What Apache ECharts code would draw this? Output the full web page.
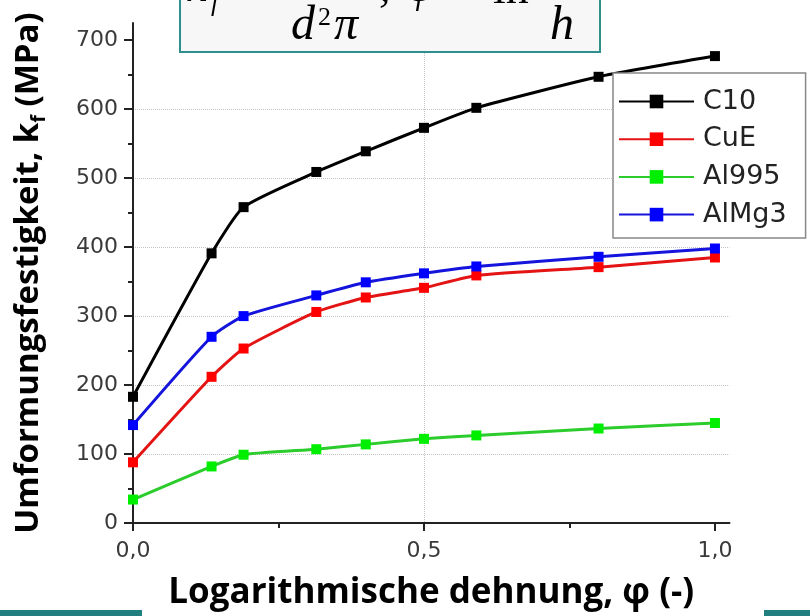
<!DOCTYPE html>
<html><head><meta charset="utf-8">
<script src="https://cdn.jsdelivr.net/npm/echarts@6/dist/echarts.min.js"></script>
<style>html,body{margin:0;padding:0;background:#fff}#c{width:810px;height:616px}</style>
</head><body><div id="c"></div>
<script>
// strain values (x)
const phi = [0, 0.135, 0.19, 0.315, 0.40, 0.50, 0.59, 0.80, 1.0];
// flow stress kf (MPa)
const c10   = [183, 391, 458, 509, 539, 573, 602, 647, 677];
const cuE   = [88, 212, 253, 306, 327, 341, 359, 371, 385];
const al995 = [34, 82, 99, 107, 114, 122, 127, 137, 145];
const alMg3 = [142, 270, 300, 330, 349, 362, 372, 386, 398];
const seriesNames = ['C10', 'CuE', 'Al995', 'AlMg3'];
const yTicks = [0, 100, 200, 300, 400, 500, 600, 700];
const yMinor = [50, 150, 250, 350, 450, 550, 650];
const xTicks = [0, 0.5, 1.0];
const xMinor = [0.25, 0.75];

const lineColors = ['#000000', '#e41414', '#2ccc2c', '#1414dc'];
const markColors = ['#000000', '#ff0000', '#00ee00', '#0000ff'];
const vals = [c10, cuE, al995, alMg3];

const chart = echarts.init(document.getElementById('c'));
const axisCol = '#222';
const labelStyle = {fontFamily: '"DejaVu Sans"', fontSize: 22, color: '#3a3a3a'};
const titleFont = '"Open Sans"';

chart.setOption({
  animation: false,
  backgroundColor: '#fff',
  grid: {left: 133, right: 80.5, top: 23, bottom: 93},
  xAxis: [{
    type: 'value', min: 0, max: 1.025, interval: 0.5,
    axisLine: {lineStyle: {color: axisCol, width: 2}},
    axisTick: {customValues: xTicks, length: 8, lineStyle: {color: axisCol, width: 2}},
    axisLabel: Object.assign({customValues: xTicks, margin: 17,
      formatter: v => v.toFixed(1).replace('.', ',')}, labelStyle),
    splitLine: {show: true, showMinLine: false, showMaxLine: false,
      lineStyle: {type: 'dotted', color: '#c4c4c4', width: 1}},
    name: 'Logarithmische dehnung, φ (-)',
    nameLocation: 'middle', nameGap: 53,
    nameTextStyle: {fontFamily: titleFont, fontWeight: 'bold', fontSize: 35, color: '#000'}
  }, {
    type: 'value', min: 0, max: 1.025, position: 'bottom',
    axisLine: {show: false},
    axisTick: {show: true, customValues: xMinor, length: 5, lineStyle: {color: axisCol, width: 2}},
    axisLabel: {show: false}, splitLine: {show: false}
  }],
  yAxis: [{
    type: 'value', min: 0, max: 725, interval: 100,
    axisLine: {show: true, lineStyle: {color: axisCol, width: 2}},
    axisTick: {show: true, customValues: yTicks, length: 9, lineStyle: {color: axisCol, width: 2}},
    axisLabel: Object.assign({customValues: yTicks, margin: 15}, labelStyle),
    splitLine: {show: true, showMinLine: false, showMaxLine: false,
      lineStyle: {type: 'dotted', color: '#c4c4c4', width: 1}},
    name: 'Umformungsfestigkeit, k{s|f} (MPa)',
    nameLocation: 'middle', nameGap: 84, nameRotate: 90,
    nameTextStyle: {fontFamily: titleFont, fontWeight: 'bold', fontSize: 33, color: '#000',
      rich: {s: {fontFamily: titleFont, fontWeight: 'bold', fontSize: 20, color: '#000',
        verticalAlign: 'bottom', lineHeight: 40}}}
  }, {
    type: 'value', min: 0, max: 725, position: 'left',
    axisLine: {show: false},
    axisTick: {show: true, customValues: yMinor, length: 5, lineStyle: {color: axisCol, width: 2}},
    axisLabel: {show: false}, splitLine: {show: false}
  }],
  legend: {
    orient: 'vertical', left: 613, top: 73,
    padding: [15, 19, 10, 5], itemGap: 10.7, itemWidth: 75, itemHeight: 17,
    backgroundColor: '#fff', borderColor: '#888', borderWidth: 1.5,
    textStyle: {fontFamily: '"DejaVu Sans"', fontSize: 27, color: '#222', padding: [0, 0, 0, 4]},
    data: seriesNames
  },
  series: seriesNames.map((n, k) => ({
    name: n, type: 'line', xAxisIndex: 0, yAxisIndex: 0,
    data: phi.map((x, i) => [x, vals[k][i]]),
    smooth: 0.18,
    symbol: 'rect', symbolSize: 10,
    lineStyle: {color: lineColors[k], width: 3},
    itemStyle: {color: markColors[k], borderWidth: 0}
  })),
  graphic: [
    {type: 'rect', z: 100, shape: {x: 180, y: -3, width: 420, height: 55},
      style: {fill: '#f7f7f7', stroke: '#2f8f8f', lineWidth: 2}},
    {type: 'text', z: 101, style: {text: 'k', x: 186, y: -11, font: 'italic 46px "Liberation Serif"', fill: '#000', verticalAlign: 'middle'}},
    {type: 'text', z: 101, style: {text: 'f', x: 211, y: 4, font: 'italic 26px "Liberation Serif"', fill: '#000', verticalAlign: 'middle'}},
    {type: 'text', z: 101, style: {text: 'd', x: 291, y: 26, font: 'italic 48px "Liberation Serif"', fill: '#000', verticalAlign: 'middle'}},
    {type: 'text', z: 101, style: {text: '2', x: 318, y: 18, font: '26px "Liberation Serif"', fill: '#000', verticalAlign: 'middle'}},
    {type: 'text', z: 101, style: {text: 'π', x: 334, y: 26, font: 'italic 48px "Liberation Serif"', fill: '#000', verticalAlign: 'middle'}},
    {type: 'text', z: 101, style: {text: ',', x: 379, y: -11, font: '46px "Liberation Serif"', fill: '#000', verticalAlign: 'middle'}},
    {type: 'text', z: 101, style: {text: 'φ', x: 408, y: -11, font: 'italic 46px "Liberation Serif"', fill: '#000', verticalAlign: 'middle'}},
    {type: 'text', z: 101, style: {text: 'ln', x: 493, y: -9, font: '46px "Liberation Serif"', fill: '#000', verticalAlign: 'middle'}},
    {type: 'text', z: 101, style: {text: 'h', x: 550, y: 26, font: 'italic 48px "Liberation Serif"', fill: '#000', verticalAlign: 'middle'}},
    {type: 'rect', z: 100, shape: {x: 0, y: 610, width: 142, height: 6}, style: {fill: '#217f7f'}},
    {type: 'rect', z: 100, shape: {x: 764, y: 610, width: 46, height: 6}, style: {fill: '#217f7f'}}
  ]
});
</script></body></html>
